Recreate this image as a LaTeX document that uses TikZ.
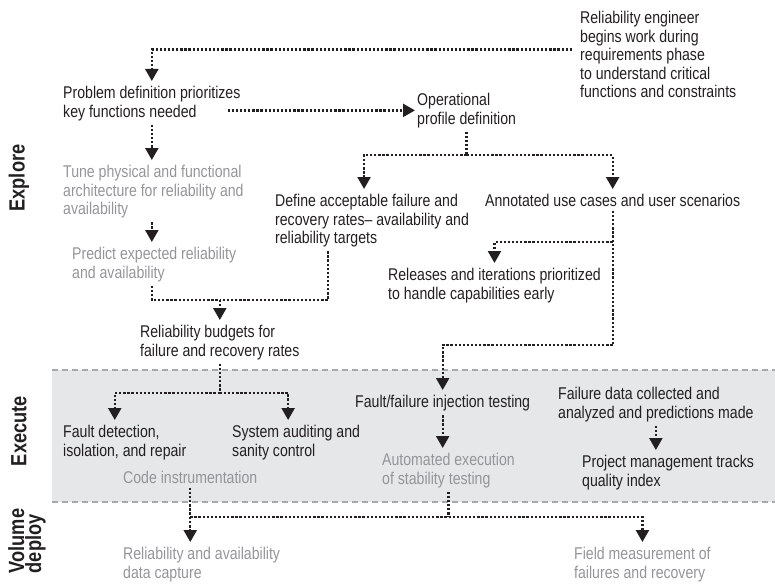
\documentclass[tikz,border=0pt]{standalone}
\usepackage{fontspec}
\setmainfont{Liberation Sans}[FakeStretch=0.83]
\usepackage{xcolor}
\usetikzlibrary{arrows.meta,positioning,calc}
\definecolor{ink}{HTML}{231F20}
\definecolor{pale}{HTML}{939598}
\definecolor{band}{HTML}{E6E7E8}
\definecolor{rule}{HTML}{A7A9AC}

\begin{document}
\begin{tikzpicture}[x=1pt,y=-1pt,
  txt/.style={anchor=north west,inner sep=0pt,align=left,text=ink,font=\fontsize{17}{18.5}\selectfont},
  pale/.style={txt,text=pale},
  link/.style={draw=ink,line width=2.3pt,dash pattern=on 2.3pt off 1.8pt},
  flow/.style={link,-{Triangle[width=13pt,length=12pt]},shorten >=5pt},
  phase/.style={rotate=90,inner sep=0pt,align=left,text=ink,font=\bfseries\fontsize{22}{17}\selectfont}]
\useasboundingbox (0,0) rectangle (775,583);
% execute band
\fill[band] (52,370) rectangle (775,502);
\draw[rule,line width=2pt,dash pattern=on 6pt off 4pt] (52,370) -- (775,370) (52,502) -- (775,502);

\node[phase] (explore) at (19,178) {Explore};
\node[phase] (execute) at (19,431) {Execute};
\node[phase] (deploy) at (27,541) {Volume\\deploy};

\node[txt] (eng) at (580,11) {Reliability engineer\\begins work during\\requirements phase\\to understand critical\\functions and constraints};
\node[txt] (prob) at (63,86) {Problem definition prioritizes\\key functions needed};
\node[txt] (oper) at (417,93) {Operational\\profile definition};
\node[pale] (tune) at (63,165) {Tune physical and functional\\architecture for reliability and\\availability};
\node[txt] (define) at (275,194) {Define acceptable failure and\\recovery rates-- availability and\\reliability targets};
\node[txt] (annot) at (485,194) {Annotated use cases and user scenarios};
\node[pale] (predict) at (72,247) {Predict expected reliability\\and availability};
\node[txt] (release) at (388,268) {Releases and iterations prioritized\\to handle capabilities early};
\node[txt] (budget) at (140,325) {Reliability budgets for\\failure and recovery rates};
\node[txt] (fault) at (63,425) {Fault detection,\\isolation, and repair};
\node[txt] (audit) at (232,425) {System auditing and\\sanity control};
\node[pale] (instr) at (123,471) {Code instrumentation};
\node[txt] (inject) at (355,395) {Fault/failure injection testing};
\node[txt] (faildata) at (558,387) {Failure data collected and\\analyzed and predictions made};
\node[pale] (stab) at (382,453) {Automated execution\\of stability testing};
\node[txt] (track) at (582,455) {Project management tracks\\quality index};
\node[pale] (capture) at (123,547) {Reliability and availability\\data capture};
\node[pale] (field) at (574,547) {Field measurement of\\failures and recovery};

% explore
\draw[flow] ([shift={(-8,-5)}]eng.west) -| (prob.north);
\draw[flow,shorten >=2pt] ($(prob.east |- oper.west)+(-13,0)$) -- (oper.west);
\coordinate (split) at (oper.south |- 0,155);
\draw[link,shorten <=4pt] (oper.south) -- (split);
\draw[flow] (split) -| ([xshift=-8pt]define.north);
\draw[flow] (split) -| (annot.north);
\draw[flow,shorten <=4pt] (prob.south) -- (prob.south |- tune.north);
\draw[flow,shorten <=4pt] (prob.south |- tune.south) -- (prob.south |- predict.north);
\coordinate (merge) at (budget.north |- 0,300);
\draw[link,shorten <=4pt] (prob.south |- predict.south) |- (merge);
\draw[link,shorten <=4pt] ([xshift=-44pt]define.south) |- (merge);
\draw[flow] (merge) -- (budget.north);
\coordinate (tap) at (annot.south |- 0,242);
\coordinate (drop) at (annot.south |- 0,345);
\draw[link,shorten <=4pt] (annot.south) -- (drop);
\draw[flow] (tap) -| (release.north);
\draw[flow] (drop) -| (inject.north);

% execute
\coordinate (fork) at (budget.south |- 0,393);
\draw[link,shorten <=4pt] (budget.south) -- (fork);
\draw[flow] (fork) -| ([xshift=-10pt]fault.north);
\draw[flow] (fork) -| ([xshift=-8pt]audit.north);
\draw[flow,shorten <=4pt] (inject.south) -- (inject.south |- stab.north);
\draw[flow,shorten <=4pt] (faildata.south) -- (faildata.south |- track.north);

% deploy
\coordinate (gather) at (instr.south |- 0,517);
\draw[link,shorten <=4pt] (instr.south) -- (gather);
\draw[link,shorten <=4pt] (stab.south) -- (stab.south |- gather);
\draw[flow] (gather) -- (gather |- capture.north);
\draw[flow] (gather) -| (field.north);
\end{tikzpicture}
\end{document}
